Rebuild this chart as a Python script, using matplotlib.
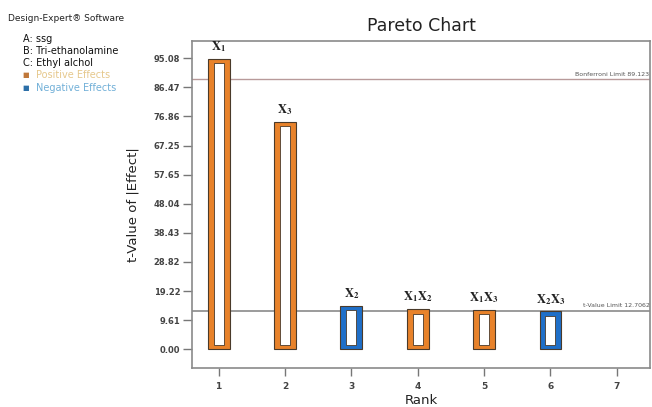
import matplotlib.pyplot as plt
from matplotlib.patches import Rectangle
import numpy as np

plt.rcParams["mathtext.fontset"] = "stix"

# Pareto ranking of the effects
rank = np.array([1, 2, 3, 4, 5, 6])
t_value = np.array([96.0, 75.1, 14.3, 13.2, 13.1, 12.5])
effect_sign = ["pos", "pos", "neg", "pos", "pos", "neg"]
term_labels = [r"$\mathbf{X_1}$", r"$\mathbf{X_3}$", r"$\mathbf{X_2}$",
               r"$\mathbf{X_1X_2}$", r"$\mathbf{X_1X_3}$", r"$\mathbf{X_2X_3}$"]

bonferroni_limit = 89.123
t_value_limit = 12.7062

y_ticks = np.arange(11) * 9.6078
y_tick_labels = ["0.00", "9.61", "19.22", "28.82", "38.43", "48.04",
                 "57.65", "67.25", "76.86", "86.47", "95.08"]
x_ticks = [1, 2, 3, 4, 5, 6, 7]

factors = ["A: ssg", "B: Tri-ethanolamine", "C: Ethyl alchol"]

orange = "#e8822a"
blue = "#1f6fc8"
edge_dark = "#4a3a2a"

fig = plt.figure(figsize=(6.52, 4.07), dpi=100)
ax = fig.add_axes([0.2945, 0.0958, 0.7025, 0.8035])

bar_w = 0.33
inner_w = 0.15
inset = 1.5
for r, v, s, lab in zip(rank, t_value, effect_sign, term_labels):
    col = orange if s == "pos" else blue
    ax.add_patch(Rectangle((r - bar_w / 2, 0), bar_w, v, facecolor=col,
                           edgecolor=edge_dark, linewidth=0.8, zorder=3))
    ax.add_patch(Rectangle((r - inner_w / 2, inset), inner_w, v - 2 * inset,
                           facecolor="white", edgecolor=edge_dark,
                           linewidth=0.6, zorder=4))
    ax.text(r, v + 1.6, lab, ha="center", va="bottom", fontsize=9,
            color="#222222", zorder=5)

ax.axhline(bonferroni_limit, color="#b89a9a", linewidth=1.0, zorder=2)
ax.axhline(t_value_limit, color="#8a8a8a", linewidth=1.2, zorder=2)
ax.text(7.49, bonferroni_limit + 0.8, "Bonferroni Limit 89.123", ha="right",
        va="bottom", fontsize=4.5, color="#555555")
ax.text(7.49, t_value_limit + 0.8, "t-Value Limit 12.7062", ha="right",
        va="bottom", fontsize=4.5, color="#555555")

ax.set_xlim(0.6, 7.5)
ax.set_ylim(-6.2, 101.8)
ax.set_xticks(x_ticks)
ax.set_yticks(y_ticks)
ax.set_yticklabels(y_tick_labels)
ax.tick_params(axis="y", direction="out", length=6.5, width=1.0,
               colors="#777777", labelcolor="#444444", labelsize=6, pad=2)
ax.tick_params(axis="x", direction="out", length=6, width=1.0,
               colors="#777777", labelcolor="#444444", labelsize=6.5, pad=4)
for lbl in ax.get_xticklabels() + ax.get_yticklabels():
    lbl.set_fontweight("bold")
for sp in ax.spines.values():
    sp.set_color("#8a8a8a")
    sp.set_linewidth(1.2)

ax.set_title("Pareto Chart", fontsize=12.5, color="#222222", pad=7)
ax.set_xlabel("Rank", fontsize=9.5, color="#222222", labelpad=2)
ax.set_ylabel("t-Value of |Effect|", fontsize=9.5, color="#222222",
              fontweight="medium", labelpad=10)

# side panel text
fig.text(0.012, 0.955, "Design-Expert\u00ae Software", fontsize=6.5,
         color="#222222", va="center", fontweight="medium")
y0 = 0.905
for i, f in enumerate(factors):
    fig.text(0.035, y0 - i * 0.03, f, fontsize=7, color="#111111",
             va="center")
fig.text(0.035, y0 - 3 * 0.03, "\u25a0", fontsize=5, color="#c0783a",
         va="center")
fig.text(0.055, y0 - 3 * 0.03, "Positive Effects", fontsize=7,
         color="#e6c88c", va="center")
fig.text(0.035, y0 - 4 * 0.03, "\u25a0", fontsize=5, color="#2c6fa8",
         va="center")
fig.text(0.055, y0 - 4 * 0.03, "Negative Effects", fontsize=7,
         color="#72b0d8", va="center")

fig.savefig("out.png", dpi=100)
